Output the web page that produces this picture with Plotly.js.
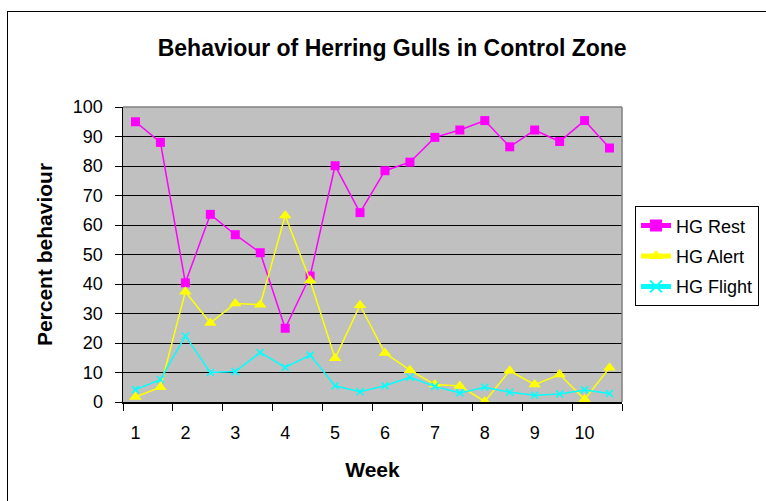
<!DOCTYPE html>
<html>
<head>
<meta charset="utf-8">
<script src="https://cdn.plot.ly/plotly-3.0.1.min.js"></script>
<style>
  html, body { margin: 0; padding: 0; overflow: hidden; background: #fff; }
  #wrap { position: relative; width: 766px; height: 501px; overflow: hidden; }
  #chart { position: absolute; left: 0; top: 0; width: 766px; height: 501px; }
  #frame { position: absolute; left: 7px; top: 11px; width: 900px; height: 700px;
           border: 1.5px solid #000; pointer-events: none; }
</style>
</head>
<body>
<div id="wrap">
  <div id="chart"></div>
  <div id="frame"></div>
</div>
<script>
// Half-week sampling points
const weeks = [1, 1.5, 2, 2.5, 3, 3.5, 4, 4.5, 5, 5.5, 6, 6.5, 7, 7.5, 8, 8.5, 9, 9.5, 10, 10.5];
const weekTickVals = [1, 2, 3, 4, 5, 6, 7, 8, 9, 10];
const weekTickText = ["1", "2", "3", "4", "5", "6", "7", "8", "9", "10"];

const hgRest   = [95, 88, 40.4, 63.6, 56.7, 50.6, 25, 42.7, 80.1, 64.2, 78.4, 81.3, 89.7, 92.2, 95.4, 86.5, 92.2, 88.3, 95.4, 86.1];
const hgAlert  = [1.7, 5, 37.4, 26.8, 33.4, 33, 63.2, 41.2, 14.8, 32.8, 16.6, 10.8, 5.9, 5.4, 0.2, 10.6, 5.9, 9.3, 0.9, 11.6];
const hgFlight = [4.2, 7.6, 22.4, 10, 10.3, 16.8, 11.7, 15.9, 5.5, 3.5, 5.5, 8.4, 5.3, 3.1, 5, 3.3, 2.3, 2.7, 4.1, 2.9];

const seriesNames = ["HG Rest", "HG Alert", "HG Flight"];

const FONT = "Liberation Sans, Arial, sans-serif";

const traces = [
  {
    x: weeks, y: hgRest, name: seriesNames[0], type: "scatter", mode: "lines+markers",
    legendgroup: "a",
    line: { color: "#FF00FF", width: 1.5 },
    marker: { symbol: "square", size: 9, color: "#FF00FF" }
  },
  {
    x: weeks, y: hgAlert, name: seriesNames[1], type: "scatter", mode: "lines+markers",
    legendgroup: "b",
    line: { color: "#FFFF00", width: 1.5 },
    marker: { symbol: "triangle-up", size: 11, color: "#FFFF00" }
  },
  {
    x: weeks, y: hgFlight, name: seriesNames[2], type: "scatter", mode: "lines+markers",
    legendgroup: "c",
    line: { color: "#00FFFF", width: 1.5 },
    marker: { symbol: "x-thin-open", size: 7, color: "#00FFFF", line: { color: "#00FFFF", width: 1.5 } }
  }
];

const layout = {
  width: 766, height: 501,
  paper_bgcolor: "#FFFFFF",
  plot_bgcolor: "#C0C0C0",
  margin: { l: 123, r: 144, t: 107, b: 99, pad: 0, autoexpand: false },
  font: { family: FONT, size: 18, color: "#000" },
  title: {
    text: "<b>Behaviour of Herring Gulls in Control Zone</b>",
    font: { family: FONT, size: 23, color: "#000" },
    x: 0.512, xanchor: "center", y: 0.905, yanchor: "middle"
  },
  xaxis: {
    range: [0.75, 10.75],
    tickmode: "array", tickvals: weekTickVals, ticktext: weekTickText,
    ticks: "", showgrid: false, zeroline: false,
    showline: true, linecolor: "#000", linewidth: 1.5,
    tickfont: { family: FONT, size: 18, color: "#000" },
    ticklabelstandoff: 14,
    minor: { tick0: 0.75, dtick: 1, ticks: "outside", ticklen: 7, tickcolor: "#000", tickwidth: 1, showgrid: false },
    title: { text: "<b>Week</b>", font: { family: FONT, size: 21, color: "#000" }, standoff: 20 },
    mirror: false
  },
  yaxis: {
    range: [0, 100], dtick: 10, tick0: 0,
    ticks: "outside", ticklen: 7, tickcolor: "#000", tickwidth: 1,
    showgrid: true, gridcolor: "#000", gridwidth: 1,
    zeroline: false,
    showline: true, linecolor: "#000", linewidth: 1.5,
    tickfont: { family: FONT, size: 18, color: "#000" },
    ticklabelstandoff: 8,
    title: { text: "<b>Percent behaviour</b>", font: { family: FONT, size: 21, color: "#000" }, standoff: 14 }
  },
  shapes: [
    { type: "line", xref: "paper", yref: "paper", x0: 0, x1: 1, y0: 1, y1: 1, line: { color: "#808080", width: 1.5 } },
    { type: "line", xref: "paper", yref: "paper", x0: 1, x1: 1, y0: 0, y1: 1, line: { color: "#808080", width: 1.5 } }
  ],
  legend: {
    xref: "container", yref: "container",
    x: 0.829, xanchor: "left", y: 0.588, yanchor: "top",
    bgcolor: "#FFFFFF", bordercolor: "#000", borderwidth: 1,
    font: { family: FONT, size: 18, color: "#000" },
    tracegroupgap: 4, itemsizing: "constant"
  },
  showlegend: true
};

Plotly.newPlot("chart", traces, layout, { displayModeBar: false, staticPlot: true });
</script>
</body>
</html>
